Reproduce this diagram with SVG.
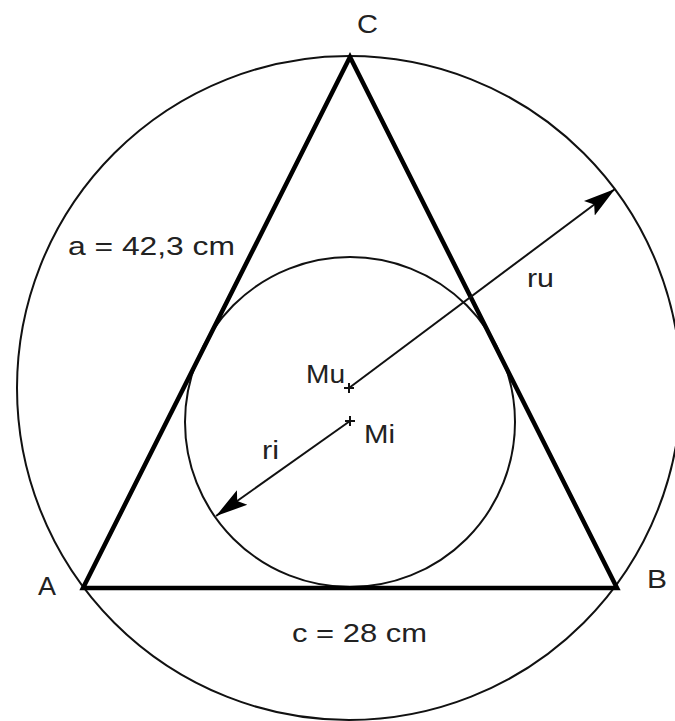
<svg xmlns="http://www.w3.org/2000/svg" width="675" height="721" viewBox="0 0 675 721">
<defs>
<style>
.t{font-family:"Liberation Sans",Arial,sans-serif;font-size:25px;fill:#222}
.thin{fill:none;stroke:#111;stroke-width:2}
.tri{fill:none;stroke:#000;stroke-width:4.5;stroke-linejoin:miter}
.arr{stroke:#111;stroke-width:2;fill:none}
</style>
<marker id="ah" markerUnits="userSpaceOnUse" markerWidth="34" markerHeight="22" viewBox="0 0 34 22" refX="32" refY="11" orient="auto">
<path d="M0,2 L32,11 L0,20 L6,11 Z" fill="#000"/>
</marker>
</defs>
<rect width="675" height="721" fill="#fff"/>
<g id="outer-circle"><circle class="thin" cx="349" cy="388" r="332"/></g>
<g id="inner-circle"><circle class="thin" cx="350" cy="422" r="165"/></g>
<g id="triangle"><polygon class="tri" points="83,588 617,588 350,57"/></g>
<g id="connectors">
<line class="arr" x1="349" y1="388" x2="615" y2="189" marker-end="url(#ah)"/>
<line class="arr" x1="350" y1="421" x2="216" y2="516" marker-end="url(#ah)"/>
<path class="arr" d="M344,388 h10 M349,383 v10 M345,421 h10 M350,416 v10" stroke-width="1.8"/>
</g>
<g id="labels">
<text class="t" x="357" y="33" textLength="21" lengthAdjust="spacingAndGlyphs">C</text>
<text class="t" x="38" y="595" textLength="18" lengthAdjust="spacingAndGlyphs">A</text>
<text class="t" x="647" y="588" textLength="20" lengthAdjust="spacingAndGlyphs">B</text>
<text class="t" x="306" y="383" textLength="39" lengthAdjust="spacingAndGlyphs">Mu</text>
<text class="t" x="364" y="443" textLength="31" lengthAdjust="spacingAndGlyphs">Mi</text>
<text class="t" x="262" y="459" textLength="17" lengthAdjust="spacingAndGlyphs">ri</text>
<text class="t" x="527" y="287" textLength="27" lengthAdjust="spacingAndGlyphs">ru</text>
<text class="t" x="68" y="255" textLength="167" lengthAdjust="spacingAndGlyphs">a = 42,3 cm</text>
<text class="t" x="292" y="642" textLength="135" lengthAdjust="spacingAndGlyphs">c = 28 cm</text>
</g>
</svg>
